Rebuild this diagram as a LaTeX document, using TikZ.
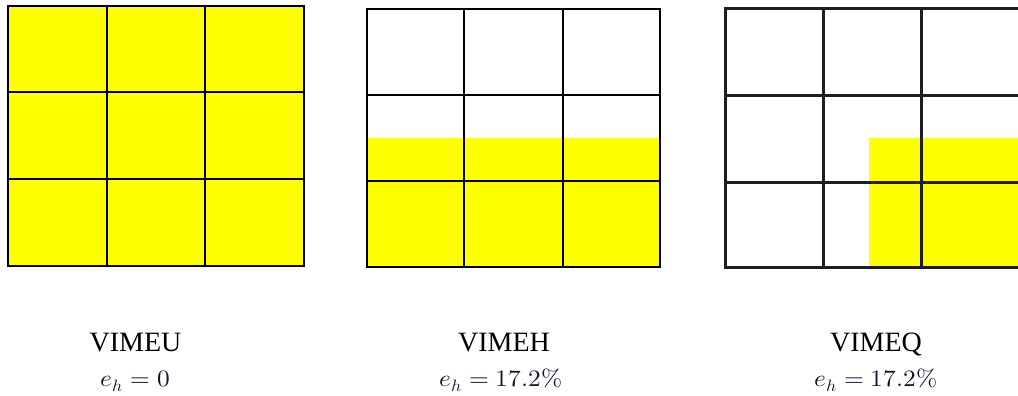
\documentclass[tikz,border=0pt]{standalone}
\usepackage{fontspec}
\usepackage{unicode-math}
\usepackage{graphicx}
\setmainfont{Liberation Serif}
\setmathfont{Latin Modern Math}
\definecolor{fillyellow}{RGB}{255,255,0}
\definecolor{gridthree}{RGB}{30,30,30}
\definecolor{mathink}{RGB}{20,20,50}
\begin{document}
\begin{tikzpicture}[x=1pt,y=-1pt,
  gridline/.style={line width=2.7pt,draw=black},
  gridlinethree/.style={line width=3pt,draw=gridthree},
  yellowfill/.style={fill=fillyellow,draw=none},
  title/.style={anchor=base,font=\fontsize{28}{30}\selectfont,inner sep=0pt},
  errlabel/.style={anchor=base,inner sep=0pt,text=mathink}]
\useasboundingbox[fill=white] (0,0) rectangle (1018,396);
% Grid 1: VIMEU
\fill[yellowfill] (8,6) rectangle (304,266);
\draw[gridline] (8,6) rectangle (304,266);
\draw[gridline] (107,6) -- (107,266) (205,6) -- (205,266)
                (8,92) -- (304,92) (8,179) -- (304,179);
% Grid 2: VIMEH
\fill[yellowfill] (367,138) rectangle (660,267);
\draw[gridline] (367,9) rectangle (660,267);
\draw[gridline] (464,9) -- (464,267) (563,9) -- (563,267)
                (367,95) -- (660,95) (367,181) -- (660,181);
% Grid 3: VIMEQ (clipped at the right edge)
\begin{scope}
\clip (0,0) rectangle (1018,396);
\fill[yellowfill] (869,138) rectangle (1020,267);
\draw[gridlinethree] (725,9) rectangle (1020,267);
\draw[gridlinethree] (823,9) -- (823,267) (921,9) -- (921,267)
                (725,96) -- (1020,96) (725,182) -- (1020,182);
\end{scope}
% Labels
\node[title] (t1) at (135.5,351) {VIMEU};
\node[title] (t2) at (504,351) {VIMEH};
\node[title] (t3) at (876,351) {VIMEQ};
\node[errlabel] (e1) at (135.5,386) {\scalebox{1.08}[1]{\fontsize{23.5}{25}\selectfont$e_h = 0$}};
\node[errlabel] (e2) at (501,386) {\scalebox{1.08}[1]{\fontsize{23.5}{25}\selectfont$e_h = 17.2\%$}};
\node[errlabel] (e3) at (876,386) {\scalebox{1.08}[1]{\fontsize{23.5}{25}\selectfont$e_h = 17.2\%$}};
\end{tikzpicture}
\end{document}
